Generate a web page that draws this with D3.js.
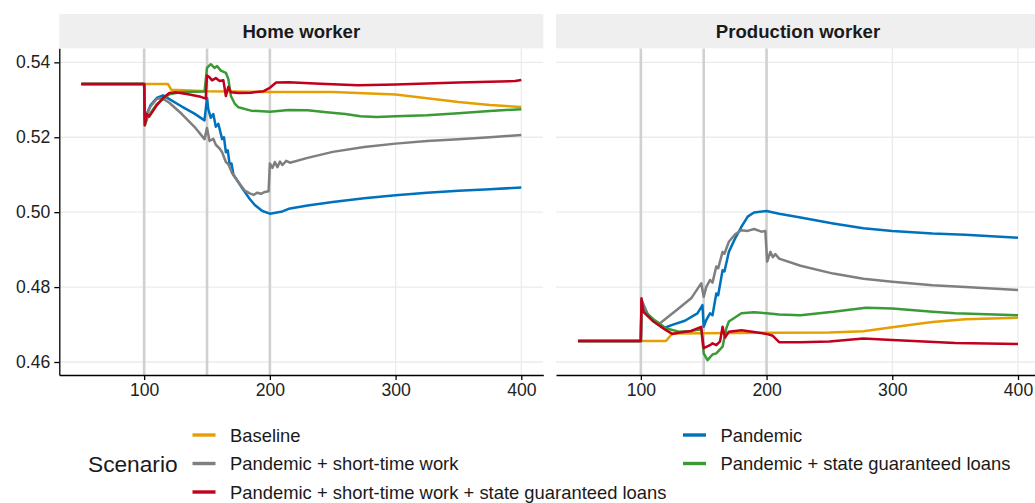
<!DOCTYPE html>
<html><head><meta charset="utf-8">
<script src="https://cdn.jsdelivr.net/npm/d3@7"></script>
<style>
html,body{margin:0;padding:0;background:#fff;}
svg{display:block;font-family:"Liberation Sans",Arial,Helvetica,sans-serif;}
</style></head>
<body><svg id="c" width="1035" height="503"></svg>
<script>
// ---------- data ----------
const panels = ["Home worker", "Production worker"];
const scenarios = ["Baseline", "Pandemic", "Pandemic + short-time work", "Pandemic + state guaranteed loans", "Pandemic + short-time work + state guaranteed loans"];
const colors = ["#E69F00", "#0072BD", "#7F7F7F", "#3A9A36", "#C0001D"];
const xTicks = [100, 200, 300, 400];
const yTicks = [0.46, 0.48, 0.50, 0.52, 0.54];
const eventLines = [100, 150, 200];

// Home worker: [time, value]
const homeBaseline = [[50,0.5342],[119,0.5342],[121.5,0.5327],[150,0.5323],[200,0.5321],[250,0.5321],[300,0.5314],[330,0.5302],[350,0.5294],[375,0.5286],[400,0.5281]];
const homePandemic = [[50,0.5342],[100,0.5342],[100.5,0.5250],[105,0.5285],[110,0.5305],[115,0.5312],[120,0.5302],[130,0.5282],[140,0.5263],[148,0.5245],[150,0.5305],[151,0.5275],[153,0.5252],[155,0.5262],[157,0.5228],[159,0.5236],[162,0.5195],[163.5,0.5200],[165,0.5160],[166.5,0.5165],[168,0.5128],[169.5,0.5130],[171,0.5100],[175,0.5080],[179,0.5059],[184,0.5035],[188,0.5019],[194,0.5003],[200,0.4996],[210,0.5002],[215,0.5009],[230,0.5018],[250,0.5027],[275,0.5037],[300,0.5045],[325,0.5052],[350,0.5057],[375,0.5061],[400,0.5066]];
const homeShortTime = [[50,0.5342],[100,0.5342],[100.5,0.5250],[105,0.5282],[110,0.5302],[114,0.5305],[120,0.5292],[130,0.5262],[140,0.5228],[148,0.5195],[150,0.5225],[152,0.5190],[155,0.5196],[157,0.5180],[160,0.5170],[162,0.5160],[165,0.5134],[167,0.5128],[170,0.5104],[175,0.5080],[180,0.5058],[184,0.5050],[187,0.5046],[190,0.5052],[193,0.5049],[196,0.5054],[199,0.5056],[200,0.5130],[202,0.5118],[204,0.5134],[206,0.5120],[208,0.5135],[210,0.5126],[213,0.5137],[216,0.5132],[230,0.5145],[250,0.5161],[275,0.5174],[300,0.5183],[325,0.5190],[350,0.5195],[375,0.5200],[400,0.5206]];
const homeLoans = [[50,0.5342],[100,0.5342],[100.5,0.5232],[103,0.5255],[110,0.5288],[120,0.5315],[130,0.5321],[148,0.5322],[150,0.5385],[153,0.5395],[156,0.5385],[158,0.5390],[161,0.5378],[165,0.5372],[167,0.5355],[169,0.5310],[172,0.5290],[175,0.5280],[185,0.5271],[200,0.5268],[215,0.5273],[230,0.5272],[245,0.5267],[260,0.5262],[272,0.5256],[285,0.5254],[300,0.5256],[325,0.5259],[350,0.5264],[375,0.5270],[400,0.5275]];
const homeBoth = [[50,0.5342],[100,0.5342],[100.5,0.5232],[102,0.5262],[104,0.5255],[110,0.5285],[115,0.5305],[120,0.5318],[125,0.5320],[135,0.5315],[145,0.5308],[149,0.5303],[150,0.5365],[152,0.5360],[154,0.5352],[157,0.5358],[160,0.5350],[163,0.5352],[165,0.5310],[167,0.5335],[169,0.5320],[175,0.5318],[185,0.5319],[195,0.5323],[200,0.5332],[205,0.5346],[215,0.5347],[240,0.5343],[270,0.5339],[300,0.5341],[350,0.5346],[395,0.5350],[400,0.5353]];

// Production worker: [time, value]
const prodBaseline = [[50,0.4656],[120,0.4656],[125,0.4676],[150,0.4677],[200,0.4678],[250,0.4679],[277,0.4682],[300,0.4693],[332,0.4707],[358,0.4714],[400,0.4718]];
const prodPandemic = [[50,0.4656],[100,0.4656],[100.5,0.4765],[105,0.4730],[110,0.4710],[118,0.4690],[125,0.4699],[135,0.4710],[145,0.4730],[149,0.4752],[150,0.4694],[152,0.4712],[155,0.4730],[157,0.4725],[160,0.4783],[161.5,0.4778],[165,0.4845],[166.5,0.4842],[170,0.4894],[175,0.4930],[180,0.4961],[185,0.4988],[190,0.4999],[200,0.5003],[210,0.4996],[227,0.4986],[253,0.4970],[277,0.4957],[300,0.4950],[332,0.4943],[358,0.4940],[400,0.4932]];
const prodShortTime = [[50,0.4656],[100,0.4656],[100.5,0.4765],[105,0.4730],[110,0.4710],[115,0.4703],[120,0.4716],[130,0.4743],[140,0.4770],[148,0.4810],[150,0.4774],[152,0.4800],[155,0.4819],[157,0.4812],[160,0.4855],[161.5,0.4850],[165,0.4894],[166.5,0.4889],[170,0.4921],[175,0.4941],[180,0.4952],[185,0.4950],[190,0.4955],[196,0.4948],[199,0.4950],[200.5,0.4868],[203,0.4894],[205,0.4880],[207,0.4888],[210,0.4876],[227,0.4857],[253,0.4836],[277,0.4822],[300,0.4814],[332,0.4805],[358,0.4800],[400,0.4792]];
const prodLoans = [[50,0.4656],[100,0.4656],[100.5,0.4745],[103,0.4735],[110,0.4714],[120,0.4690],[130,0.4681],[140,0.4683],[148,0.4688],[150,0.4623],[153,0.4605],[157,0.4620],[160,0.4623],[165,0.4641],[168,0.4690],[170,0.4708],[180,0.4730],[190,0.4733],[200,0.4730],[210,0.4727],[227,0.4725],[253,0.4734],[279,0.4745],[300,0.4743],[332,0.4734],[350,0.4730],[400,0.4725]];
const prodBoth = [[50,0.4656],[100,0.4656],[100.5,0.4770],[102,0.4734],[110,0.4708],[120,0.4685],[125,0.4675],[130,0.4678],[140,0.4683],[148,0.4694],[150,0.4637],[155,0.4645],[157,0.4650],[160,0.4645],[163,0.4655],[165,0.4694],[167,0.4665],[170,0.4681],[180,0.4685],[190,0.4680],[200,0.4675],[205,0.4670],[210,0.4653],[227,0.4653],[250,0.4655],[277,0.4663],[300,0.4659],[350,0.4651],[400,0.4648]];

const panelSeries = [
  [homeBaseline, homePandemic, homeShortTime, homeLoans, homeBoth],
  [prodBaseline, prodPandemic, prodShortTime, prodLoans, prodBoth]
];

// ---------- layout ----------
const svg = d3.select("#c");
const panelX = [[59.3, 543.3], [556, 1040]];
const stripTop = 14, stripBottom = 48.3, plotBottom = 375;
const y = d3.scaleLinear().domain([0.45653, 0.54375]).range([plotBottom, stripBottom]);
const fontTick = "17.6px";
const fontStrip = "18.6px";
const fontLegend = "18.4px";

panels.forEach((name, pi) => {
  const [x0, x1] = panelX[pi];
  const x = d3.scaleLinear().domain([32.5, 417.5]).range([x0, x1]);
  const g = svg.append("g");
  const cid = "clip" + pi;
  svg.append("clipPath").attr("id", cid).append("rect")
    .attr("x", x0).attr("y", stripBottom).attr("width", x1 - x0).attr("height", plotBottom - stripBottom);
  const pg = g.append("g").attr("clip-path", `url(#${cid})`);
  pg.selectAll(".hg").data(yTicks).join("line")
    .attr("x1", x0).attr("x2", x1).attr("y1", d => y(d)).attr("y2", d => y(d))
    .attr("stroke", "#ebebeb").attr("stroke-width", 1.3);
  pg.selectAll(".vg").data(xTicks).join("line")
    .attr("y1", stripBottom).attr("y2", plotBottom).attr("x1", d => x(d)).attr("x2", d => x(d))
    .attr("stroke", "#ebebeb").attr("stroke-width", 1.3);
  pg.selectAll(".ev").data(eventLines).join("line")
    .attr("y1", stripBottom).attr("y2", plotBottom).attr("x1", d => x(d)).attr("x2", d => x(d))
    .attr("stroke", "#d0d0d0").attr("stroke-width", 2.6);
  const line = d3.line().x(d => x(d[0])).y(d => y(d[1]));
  panelSeries[pi].forEach((s, si) => {
    pg.append("path").datum(s).attr("d", line)
      .attr("fill", "none").attr("stroke", colors[si]).attr("stroke-width", 2.5)
      .attr("stroke-linejoin", "round");
  });
  g.append("rect").attr("x", x0).attr("y", stripTop).attr("width", x1 - x0).attr("height", stripBottom - stripTop)
    .attr("fill", "#efefef");
  g.append("text").attr("x", (x0 + x1) / 2).attr("y", (stripTop + stripBottom) / 2)
    .attr("text-anchor", "middle").attr("dominant-baseline", "central")
    .attr("font-size", fontStrip).attr("font-weight", "bold").attr("fill", "#1a1a1a").text(name);
  const xa = g.append("g").attr("transform", `translate(0,${plotBottom})`)
    .call(d3.axisBottom(x).tickValues(xTicks).tickSize(5).tickSizeOuter(0).tickPadding(4));
  xa.select(".domain").attr("stroke", "#000").attr("stroke-width", 1.3);
  xa.selectAll(".tick line").attr("stroke", "#000").attr("stroke-width", 1.3);
  xa.selectAll("text").attr("font-size", fontTick).attr("fill", "#222").attr("font-family", "Liberation Sans, Arial, sans-serif");
  if (pi === 0) {
    const ya = g.append("g").attr("transform", `translate(${x0},0)`)
      .call(d3.axisLeft(y).tickValues(yTicks).tickFormat(d3.format(".2f")).tickSize(5).tickSizeOuter(0).tickPadding(4));
    ya.select(".domain").attr("stroke", "#000").attr("stroke-width", 1.3);
    ya.selectAll(".tick line").attr("stroke", "#000").attr("stroke-width", 1.3);
    ya.selectAll("text").attr("font-size", fontTick).attr("fill", "#222").attr("font-family", "Liberation Sans, Arial, sans-serif");
  }
});

// ---------- legend ----------
const lg = svg.append("g");
lg.append("text").attr("x", 88).attr("y", 464).attr("dominant-baseline", "central")
  .attr("font-size", "22.7px").attr("fill", "#1a1a1a").text("Scenario");
const colX = [192.5, 683];
const rowY = [435, 463.5, 492];
scenarios.forEach((s, i) => {
  const c = i % 2, r = Math.floor(i / 2);
  lg.append("line").attr("x1", colX[c]).attr("x2", colX[c] + 23)
    .attr("y1", rowY[r]).attr("y2", rowY[r]).attr("stroke", colors[i]).attr("stroke-width", 3.4);
  lg.append("text").attr("x", colX[c] + 37.5).attr("y", rowY[r]).attr("dominant-baseline", "central")
    .attr("font-size", fontLegend).attr("fill", "#1a1a1a").text(s);
});
</script></body></html>
